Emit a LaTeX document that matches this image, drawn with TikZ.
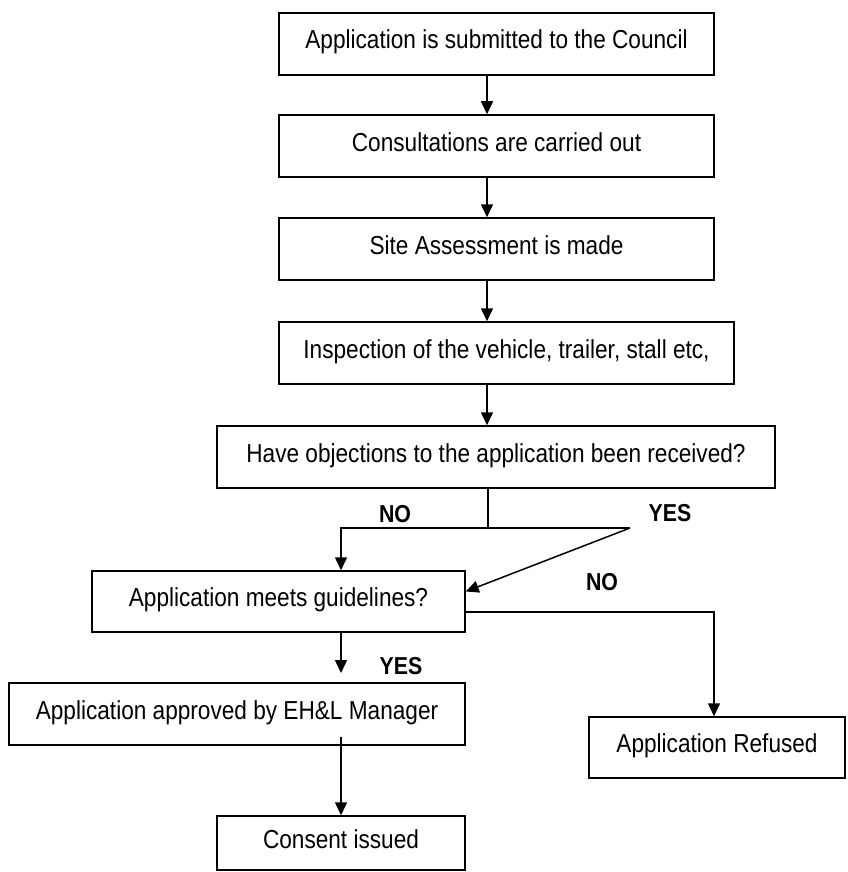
\documentclass[tikz,border=0pt]{standalone}
\usepackage{fontspec}
\setmainfont{Liberation Sans}[FakeStretch=0.87]
\usetikzlibrary{arrows.meta}
\begin{document}
\begin{tikzpicture}[x=1pt,y=-1pt,
  box/.style={draw,line width=1.5pt,inner sep=0pt,
    font=\fontsize{26}{30}\selectfont,text height=19pt,text depth=9pt},
  lab/.style={font=\fontsize{24.5}{28}\selectfont\bfseries,inner sep=0pt},
  conn/.style={line width=1.5pt},
  arr/.style={conn,-{Triangle[length=13pt,width=12pt]}}]
\useasboundingbox (0,0) rectangle (847,872);
\node[box,minimum width=435pt,minimum height=62pt] (b1) at (496.5,44) {Application is submitted to the Council};
\node[box,minimum width=435pt,minimum height=62pt] (b2) at (496.5,146) {Consultations are carried out};
\node[box,minimum width=435pt,minimum height=62pt] (b3) at (496.5,249) {Site Assessment is made};
\node[box,minimum width=455pt,minimum height=62pt] (b4) at (506.5,353) {Inspection of the vehicle, trailer, stall etc,};
\node[box,minimum width=558pt,minimum height=62pt] (b5) at (496,457) {Have objections to the application been received?};
\node[box,minimum width=373pt,minimum height=61pt] (b6) at (278.5,601.5) {Application meets guidelines?};
\node[box,minimum width=456pt,minimum height=62pt] (b7) at (237,714) {Application approved by EH\&L Manager};
\node[box,minimum width=256pt,minimum height=61pt] (b8) at (717,747.5) {Application Refused};
\node[box,minimum width=248pt,minimum height=54pt] (b9) at (341,843) {Consent issued};

\coordinate (m) at (487,0);
\draw[arr] (m |- b1.south) -- (m |- b2.north);
\draw[arr] (m |- b2.south) -- (m |- b3.north);
\draw[arr] (m |- b3.south) -- (m |- b4.north);
\draw[arr] (m |- b4.south) -- (m |- b5.north);

\coordinate (j) at (488,528);
\coordinate (nl) at (341,528);
\coordinate (yr) at (630,528);
\draw[conn] (j |- b5.south) -- (j);
\draw[arr] (yr) -- (nl) -- (nl |- b6.north);
\draw[arr] (yr) -- ([yshift=10pt]b6.east);

\coordinate (rc) at (714,612);
\draw[arr] ([yshift=-10.5pt]b6.east) -- (rc) -- (rc |- b8.north);

\coordinate (ya) at (341,673);
\draw[arr] (ya |- b6.south) -- (ya);

\coordinate (cs) at (341,737);
\draw[arr] (cs) -- (b9.north);

\node[lab] (no1) at (395,514) {NO};
\node[lab] (yes1) at (670,513) {YES};
\node[lab] (no2) at (602,582) {NO};
\node[lab] (yes2) at (401,666) {YES};
\end{tikzpicture}
\end{document}
